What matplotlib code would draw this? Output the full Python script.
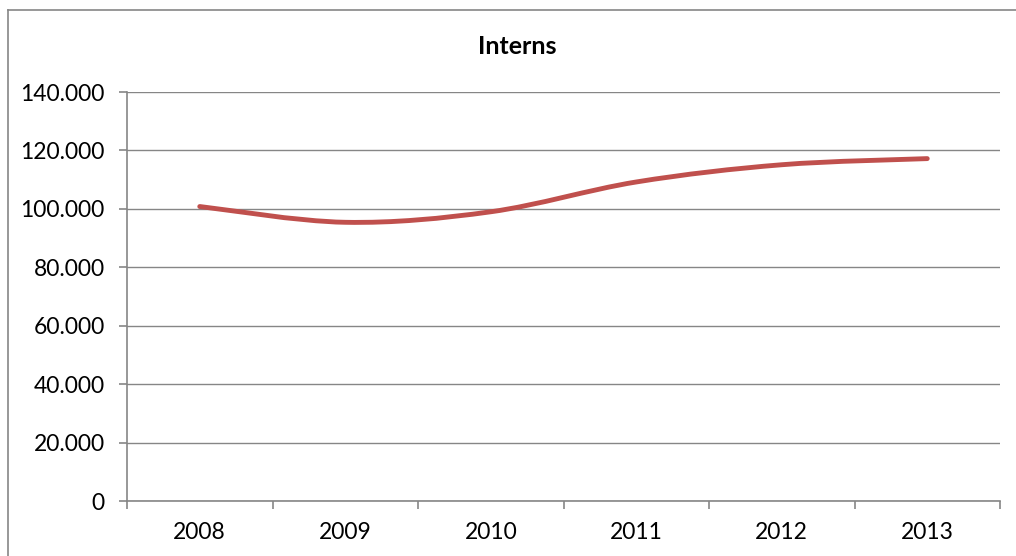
import numpy as np
import matplotlib
matplotlib.use('Agg')
import matplotlib.pyplot as plt
from matplotlib.path import Path
from matplotlib.patches import PathPatch
from matplotlib.lines import Line2D
from matplotlib.ticker import FuncFormatter

years = ['2008', '2009', '2010', '2011', '2012', '2013']
interns = [100800, 95400, 99000, 109200, 115100, 117200]
y_ticks = [0, 20000, 40000, 60000, 80000, 100000, 120000, 140000]

line_color = '#C0504D'
axis_gray = '#868686'

plt.rcParams['font.family'] = ['Lato', 'DejaVu Sans']


def smooth_path(xs, ys):
    # excel-like smoothed line: bezier segments, catmull-rom control points
    pts = np.column_stack([xs, ys]).astype(float)
    n = len(pts)
    verts = [pts[0]]
    codes = [Path.MOVETO]
    for i in range(n - 1):
        p0 = pts[max(i - 1, 0)]
        p1 = pts[i]
        p2 = pts[i + 1]
        p3 = pts[min(i + 2, n - 1)]
        c1 = p1 + (p2 - p0) / 6.0
        c2 = p2 - (p3 - p1) / 6.0
        verts += [c1, c2, p2]
        codes += [Path.CURVE4] * 3
    return Path(verts, codes)


fig = plt.figure(figsize=(10.16, 5.56), dpi=100)
ax = fig.add_axes([127 / 1016, 55 / 556, 873 / 1016, 409 / 556])

x = np.arange(len(years))
patch = PathPatch(smooth_path(x, interns), facecolor='none', edgecolor=line_color,
                  lw=3.5, capstyle='round', joinstyle='round', zorder=3)
ax.add_patch(patch)

ax.set_xlim(-0.5, len(years) - 0.5)
ax.set_ylim(0, 140000)
ax.set_yticks(y_ticks)
ax.yaxis.set_major_formatter(FuncFormatter(lambda v, p: f'{int(v):,}'.replace(',', '.')))
ax.set_xticks(x)
ax.set_xticklabels(years)
ax.set_xticks(np.arange(len(years) + 1) - 0.5, minor=True)

ax.grid(axis='y', color=axis_gray, lw=1.0, zorder=0)
for s in ['top', 'right']:
    ax.spines[s].set_visible(False)
for s in ['left', 'bottom']:
    ax.spines[s].set_color(axis_gray)
    ax.spines[s].set_linewidth(1.2)

ax.tick_params(axis='x', which='major', length=0, pad=15, labelsize=16.5)
ax.tick_params(axis='x', which='minor', length=5.5, color=axis_gray, width=1.2)
ax.tick_params(axis='y', length=6, color=axis_gray, width=1.2, pad=10, labelsize=16.5)

fig.text(517 / 1016, 1 - 46 / 556, 'Interns', ha='center', va='center',
         fontsize=18, fontweight='bold')

# outer chart border (only left and top are inside the picture)
fig.add_artist(Line2D([8 / 1016, 8 / 1016], [0, 1 - 10 / 556], color=axis_gray, lw=1.2))
fig.add_artist(Line2D([8 / 1016, 1], [1 - 10 / 556, 1 - 10 / 556], color=axis_gray, lw=1.2))

fig.savefig('out.png', dpi=100)
